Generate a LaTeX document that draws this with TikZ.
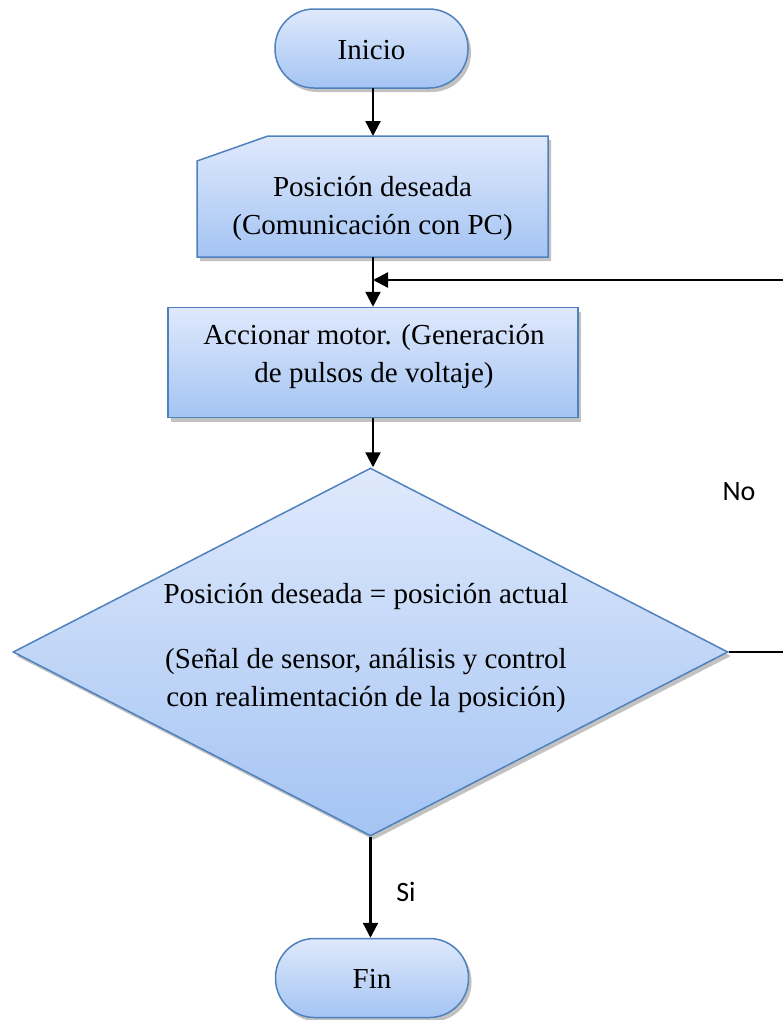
\documentclass[tikz,border=0pt]{standalone}
\usepackage{fontspec}
\setmainfont{Liberation Serif}
\newfontfamily\labelfont{Carlito}
\usetikzlibrary{shapes.geometric,shadows,arrows.meta}
\definecolor{boxline}{RGB}{79,129,189}
\definecolor{boxtop}{RGB}{223,233,252}
\definecolor{boxbot}{RGB}{164,196,243}
\tikzset{
  shapebase/.style={draw=boxline, line width=1.5pt, top color=boxtop, bottom color=boxbot,
    drop shadow={shadow xshift=3pt, shadow yshift=-4pt, fill=black!40, opacity=0.6}},
  term/.style={shapebase, rectangle, rounded corners=39pt, minimum width=193pt, minimum height=79pt, inner sep=0pt},
  procbox/.style={shapebase, rectangle, minimum width=410pt, minimum height=110pt, inner sep=0pt},
  decision/.style={shapebase, diamond, minimum width=715pt, minimum height=368pt, inner sep=0pt},
  txt/.style={font=\fontsize{29}{38}\selectfont, align=center, inner sep=0pt},
  lbl/.style={font=\labelfont\fontsize{28}{32}\selectfont, inner sep=0pt},
  flow/.style={line width=2.3pt, draw=black, -{Triangle[length=15pt,width=15pt]}},
  plainline/.style={line width=2.3pt, draw=black},
}
\begin{document}
\begin{tikzpicture}[x=1pt,y=-1pt]
\useasboundingbox (0,0) rectangle (782,1020);
% Inicio
\node[term] (ini) at (371.5,48.5) {};
\node[txt] (initext) at (371.5,50) {Inicio};
% Manual input
\coordinate (mSW) at (197,257);
\coordinate (mNW) at (197,161);
\coordinate (mK) at (268,136);
\coordinate (mNE) at (548,136);
\coordinate (mSE) at (548,257);
\path[shapebase] (mSW) -- (mNW) -- (mK) -- (mNE) -- (mSE) -- cycle;
\coordinate (mtop) at (373,136);
\coordinate (mbot) at (373,257);
\node[txt] (mtext) at (372.5,209) {Posición deseada\\(Comunicación con PC)};
% Process
\node[procbox] (proc) at (373,362.5) {};
\node[txt] (ptext) at (374,356.5) {Accionar motor. (Generación\\de pulsos de voltaje)};
% Decision
\node[decision] (dia) at (370.5,652) {};
\node[txt] (dtext) at (366,647.5) {Posición deseada = posición actual\\[27pt](Señal de sensor, análisis y control\\con realimentación de la posición)};
% Fin
\node[term] (fin) at (372,978) {};
\node[txt] (fintext) at (372,979) {Fin};
% connectors
\draw[flow] (373,88) -- (mtop);
\draw[flow] (mbot) -- (proc.north -| mbot);
\draw[flow] (proc.south -| mbot) -- (dia.north -| mbot);
\draw[flow] (dia.south) -- (fin.north -| dia.south);
\coordinate (fbR) at (783,652);
\coordinate (fbT) at (783,280);
\coordinate (fbJ) at (373,280);
\draw[plainline] (dia.east) -- (fbR);
\draw[flow] (fbT) -- (fbJ);
% labels
\node[lbl] (no) at (739,492) {No};
\node[lbl] (si) at (406,892) {Si};
\end{tikzpicture}
\end{document}
